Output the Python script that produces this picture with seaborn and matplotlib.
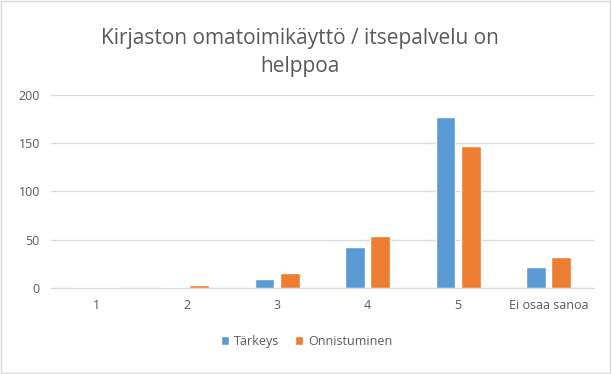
import pandas as pd
import matplotlib.pyplot as plt
import seaborn as sns
from matplotlib.patches import Rectangle

# data
categories = ['1', '2', '3', '4', '5', 'Ei osaa sanoa']
tarkeys = [0, 1, 9, 42, 177, 22]
onnistuminen = [0, 3, 16, 54, 147, 32]
series_names = ['Tärkeys', 'Onnistuminen']
y_ticks = [0, 50, 100, 150, 200]

df = pd.DataFrame({
    'kategoria': categories * 2,
    'arvo': tarkeys + onnistuminen,
    'sarja': [series_names[0]] * len(categories) + [series_names[1]] * len(categories),
})

sns.set_style('white')
plt.rcParams['font.family'] = ['Open Sans', 'DejaVu Sans']

fig = plt.figure(figsize=(6.12, 3.74), dpi=100)
ax = fig.add_axes([0.0833, 0.23, 0.887, 0.516])

sns.barplot(
    data=df, x='kategoria', y='arvo', hue='sarja',
    palette=['#5B9BD5', '#ED7D31'], width=0.56, gap=0.22,
    saturation=1, ax=ax, order=categories,
)

ax.set_ylim(0, 200)
ax.set_yticks(y_ticks)
ax.set_xlim(-0.5, len(categories) - 0.5)
ax.yaxis.grid(True, color='#D9D9D9', linewidth=1)
ax.set_axisbelow(True)
for s in ['top', 'right', 'left']:
    ax.spines[s].set_visible(False)
ax.spines['bottom'].set_color('#D9D9D9')
ax.tick_params(axis='both', length=0, labelsize=9, labelcolor='#595959', pad=8)
ax.set_xlabel('')
ax.set_ylabel('')

fig.text(0.49, 0.859, 'Kirjaston omatoimikäyttö / itsepalvelu on\nhelppoa',
         ha='center', va='center', fontsize=15, color='#595959', linespacing=1.45)

ax.legend(loc='center', bbox_to_anchor=(0.471, -0.275), ncol=2, frameon=False,
          fontsize=9, handlelength=0.7, handleheight=0.7, handletextpad=0.4,
          columnspacing=1.2, labelcolor='#595959')

fig.patches.append(Rectangle((0.002, 0.003), 0.995, 0.993, transform=fig.transFigure,
                             fill=False, edgecolor='#D9D9D9', linewidth=1))

plt.savefig('out.png', dpi=100)
plt.close()
